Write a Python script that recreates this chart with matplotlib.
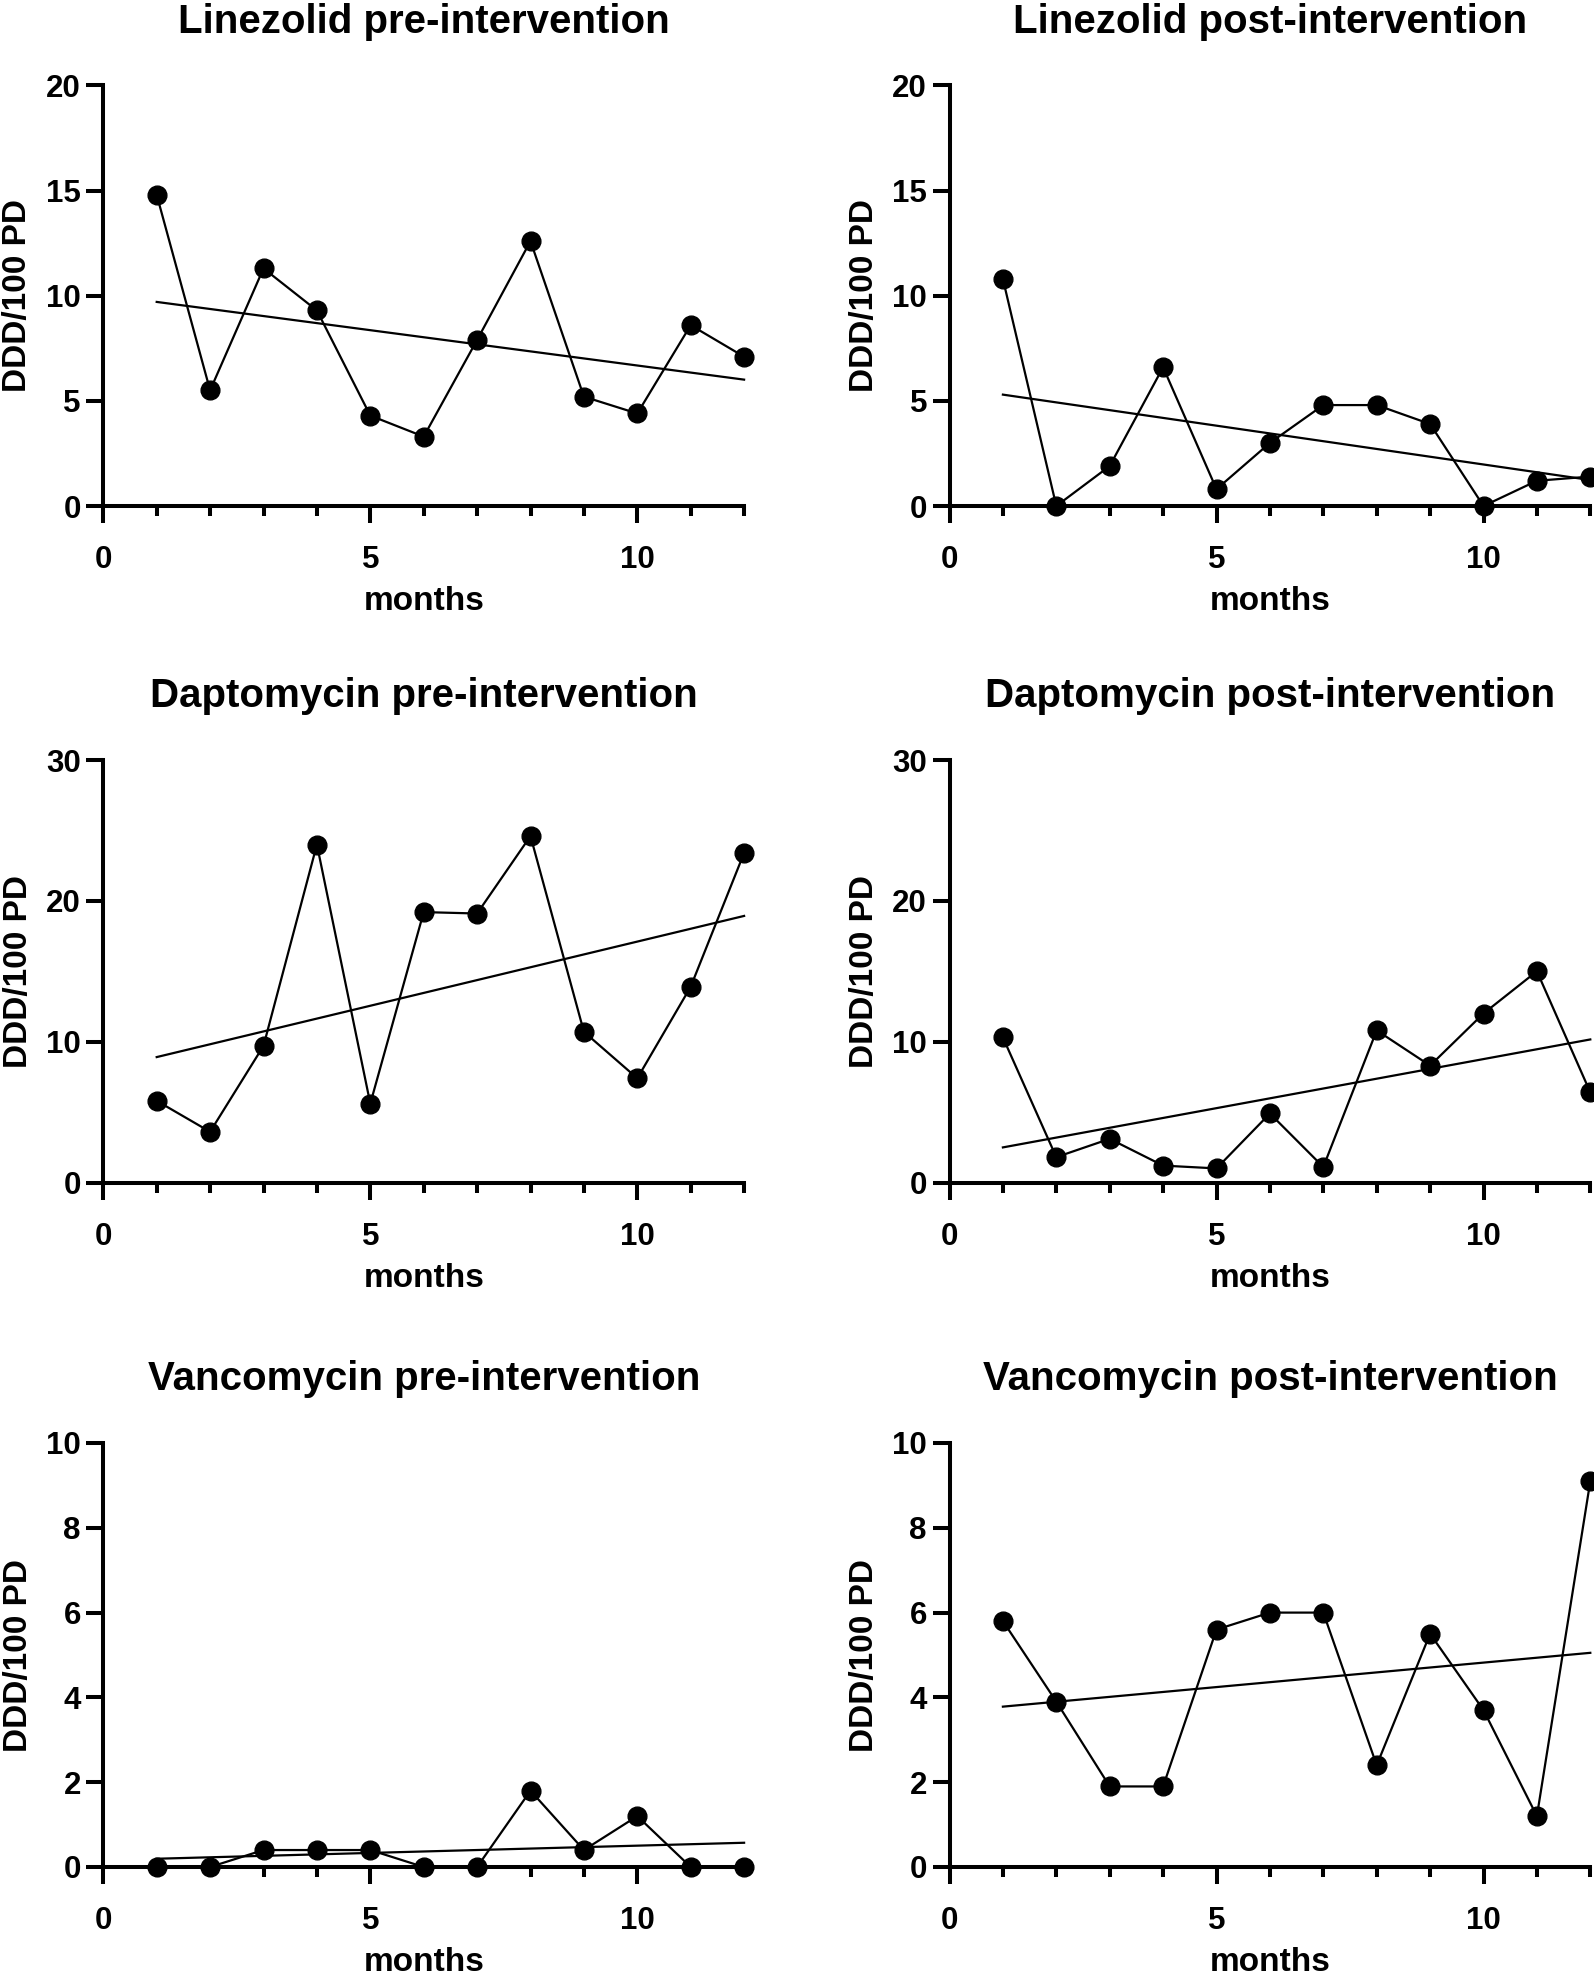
import numpy as np
import matplotlib
matplotlib.use("Agg")
import matplotlib.pyplot as plt
from matplotlib.ticker import MultipleLocator

plt.rcParams["font.family"] = ["Liberation Sans", "DejaVu Sans"]
plt.rcParams["font.weight"] = "bold"

# ---- data ----
months = np.arange(1, 13)
linezolid_pre = [14.8, 5.5, 11.3, 9.3, 4.3, 3.3, 7.9, 12.6, 5.2, 4.4, 8.6, 7.1]
linezolid_post = [10.8, 0.0, 1.9, 6.6, 0.8, 3.0, 4.8, 4.8, 3.9, 0.0, 1.2, 1.4]
daptomycin_pre = [5.8, 3.6, 9.7, 24.0, 5.6, 19.2, 19.1, 24.6, 10.7, 7.4, 13.9, 23.4]
daptomycin_post = [10.3, 1.8, 3.1, 1.2, 1.0, 4.9, 1.1, 10.8, 8.3, 12.0, 15.0, 6.4]
vancomycin_pre = [0.0, 0.0, 0.4, 0.4, 0.4, 0.0, 0.0, 1.8, 0.4, 1.2, 0.0, 0.0]
vancomycin_post = [5.8, 3.9, 1.9, 1.9, 5.6, 6.0, 6.0, 2.4, 5.5, 3.7, 1.2, 9.1]

series = [linezolid_pre, linezolid_post, daptomycin_pre,
          daptomycin_post, vancomycin_pre, vancomycin_post]
titles = ["Linezolid pre-intervention", "Linezolid post-intervention",
          "Daptomycin pre-intervention", "Daptomycin post-intervention",
          "Vancomycin pre-intervention", "Vancomycin post-intervention"]
y_max = [20, 20, 30, 30, 10, 10]
y_step = [5, 5, 10, 10, 2, 2]
x_major_ticks = [0, 5, 10]
x_label = "months"
y_label = "DDD/100 PD"

# ---- layout (pixels) ----
W, H = 1594, 1972
fig = plt.figure(figsize=(W / 100, H / 100), dpi=100)
col_left = [103.3, 949.5]
ax_w = 640.8
rows = [(85.5, 506.0), (760.0, 1182.5), (1443.0, 1867.0)]

for i, (vals, title) in enumerate(zip(series, titles)):
    r, c = divmod(i, 2)
    top, bot = rows[r]
    ax = fig.add_axes([col_left[c] / W, 1 - bot / H, ax_w / W, (bot - top) / H])

    vals = np.asarray(vals, dtype=float)
    ax.plot(months, vals, color="black", lw=1.6, marker="o", ms=13.5,
            mfc="black", mec="black", clip_on=False, zorder=5)
    slope, intercept = np.polyfit(months, vals, 1)
    ax.plot(months, slope * months + intercept, color="black", lw=1.6,
            clip_on=False, zorder=4)

    ax.set_xlim(0, 12)
    ax.set_ylim(0, y_max[i])
    ax.set_xticks(x_major_ticks)
    ax.xaxis.set_minor_locator(MultipleLocator(1))
    ax.yaxis.set_major_locator(MultipleLocator(y_step[i]))

    for s in ["top", "right"]:
        ax.spines[s].set_visible(False)
    for s in ["left", "bottom"]:
        ax.spines[s].set_linewidth(2.9)

    ax.tick_params(axis="both", which="major", width=2.9, length=12.2,
                   labelsize=22.5, color="black")
    ax.tick_params(axis="x", which="major", pad=16)
    ax.tick_params(axis="y", which="major", pad=4)
    ax.tick_params(axis="x", which="minor", width=2.9, length=7.2)
    for lab in ax.get_xticklabels() + ax.get_yticklabels():
        lab.set_fontweight("bold")

    ax.set_title(title, fontsize=29, fontweight="bold", pad=38)
    ax.set_xlabel(x_label, fontsize=24, fontweight="bold", labelpad=8)
    ax.set_ylabel(y_label, fontsize=24, fontweight="bold", labelpad=9)

fig.savefig("out.png", dpi=100)
